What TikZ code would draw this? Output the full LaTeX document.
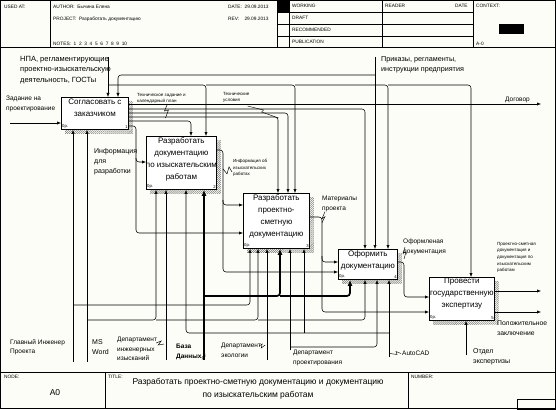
\documentclass[tikz,border=0pt]{standalone}
\usepackage{fontspec}
\setmainfont{Liberation Sans}
\usetikzlibrary{arrows.meta, positioning, patterns.meta, calc}

\definecolor{paper}{RGB}{253,253,247}

\tikzset{
    func/.style={draw, line width=0.8pt, fill=white, anchor=north west, inner sep=0pt},
    hatch/.style={pattern={Lines[angle=45,distance=1.4pt,line width=0.35pt]}, pattern color=black!65},
    arr/.style={-{Latex[length=4pt,width=3.2pt]}, line width=0.55pt, rounded corners=3pt},
    fat arr/.style={arr, line width=1.7pt, -{Latex[length=6pt,width=5pt]}},
    squig/.style={line width=0.45pt},
    frame/.style={line width=0.6pt},
    ftext/.style={font=\fontsize{8}{12}\selectfont, align=center, inner sep=0pt},
    lbl/.style={font=\fontsize{6.5}{9.5}\selectfont, align=left, inner sep=0pt, anchor=north west},
    tinylbl/.style={font=\fontsize{4.5}{6.6}\selectfont, align=left, inner sep=0pt, anchor=north west},
    hdr/.style={font=\fontsize{4.8}{6}\selectfont, inner sep=0pt, anchor=west},
    corner/.style={font=\fontsize{4.2}{5}\selectfont, inner sep=1pt},
}

\begin{document}
\begin{tikzpicture}[x=1pt, y=-1pt]
    \useasboundingbox (0,0) rectangle (556,409);
    \fill[paper] (0,0) rectangle (556,409);

    % frame, header and footer
    \draw[frame] (0.5,0.5) rectangle (555.5,408.5);
    \draw[frame] (0,47) -- (556,47);
    \draw[frame] (50,0) -- (50,47);
    \draw[frame] (277,0) -- (277,47);
    \draw[frame] (289,0) -- (289,47);
    \draw[frame] (382,0) -- (382,47);
    \draw[frame] (473,0) -- (473,47);
    \draw[frame] (277,12) -- (473,12);
    \draw[frame] (277,24) -- (473,24);
    \draw[frame] (277,36) -- (473,36);
    \fill (277,0) rectangle (289,12);
    \fill (499,24) rectangle (524,34);
    \node[hdr] (usedat) at (4,7) {USED AT:};
    \node[hdr] (author) at (53,7) {AUTHOR:\ \ Бычина Елена};
    \node[hdr] (project) at (53,19) {PROJECT:\ \ Разработать документацию};
    \node[hdr] (notes) at (53,44) {NOTES:\ \ 1\ \ 2\ \ 3\ \ 4\ \ 5\ \ 6\ \ 7\ \ 8\ \ 9\ \ 10};
    \node[hdr] (date) at (228,7) {DATE:\ \ 29.09.2013};
    \node[hdr] (rev) at (228,19) {REV:\ \ \ \ 29.09.2013};
    \node[hdr] (working) at (292,6) {WORKING};
    \node[hdr] (draft) at (292,18) {DRAFT};
    \node[hdr] (recom) at (292,30) {RECOMMENDED};
    \node[hdr] (publ) at (292,42) {PUBLICATION};
    \node[hdr] (reader) at (385,6) {READER};
    \node[hdr] (rdate) at (455,6) {DATE};
    \node[hdr] (context) at (476,6) {CONTEXT:};
    \node[hdr] (actx) at (476,44) {A-0};

    \draw[frame] (0,372) -- (556,372);
    \draw[frame] (105,372) -- (105,409);
    \draw[frame] (408,372) -- (408,409);
    \draw[frame] (517,399) rectangle (556,409);
    \node[hdr] (nodehd) at (4,377) {NODE:};
    \node[hdr] (titlehd) at (108,377) {TITLE:};
    \node[hdr] (numberhd) at (411,377) {NUMBER:};
    \node[font=\fontsize{8.5}{10}\selectfont, inner sep=0pt] (nodeno) at (55,393) {A0};
    \node[font=\fontsize{8.5}{13.5}\selectfont, align=center, inner sep=0pt] (title) at (258,389)
        {Разработать проектно-сметную документацию и документацию\\по изыскательским работам};

    % functions
    \node[func, minimum width=67pt, minimum height=32pt] (b1) at (61,97) {};
    \node[func, minimum width=70pt, minimum height=53pt] (b2) at (146,136) {};
    \node[func, minimum width=66pt, minimum height=55pt] (b3) at (243,193) {};
    \node[func, minimum width=59pt, minimum height=30pt] (b4) at (338,249) {};
    \node[func, minimum width=65pt, minimum height=43pt] (b5) at (429,277) {};
    \foreach \b in {b1,b2,b3,b4,b5}{
        \fill[hatch] ($(\b.north east)+(0,4)$) -- ($(\b.north east)+(4,4)$) -- ($(\b.south east)+(4,4)$)
            -- ($(\b.south west)+(4,4)$) -- ($(\b.south west)+(4,0)$) -- (\b.south east) -- cycle;
        \node[corner, anchor=south west] at (\b.south west) {0р.};
    }
    \node[corner, anchor=south east] at (b1.south east) {1};
    \node[corner, anchor=south east] at (b2.south east) {2};
    \node[corner, anchor=south east] at (b3.south east) {3};
    \node[corner, anchor=south east] at (b4.south east) {4};
    \node[corner, anchor=south east] at (b5.south east) {5};
    \node[ftext, below=2pt of b1.north] (t1) {Согласовать с\\заказчиком};
    \node[ftext, below=1pt of b2.north] (t2) {Разработать\\документацию\\по изыскательским\\работам};
    \node[ftext, below=1.5pt of b3.north] (t3) {Разработать\\проектно-\\сметную\\документацию};
    \node[ftext, below=1.5pt of b4.north] (t4) {Оформить\\документацию};
    \node[ftext, below=1pt of b5.north] (t5) {Провести\\государственную\\экспертизу};

    % labels
    \node[lbl, font=\fontsize{7.5}{10.5}\selectfont] (npaL) at (20,56) {НПА, регламентирующие\\проектно-изыскательскую\\деятельность, ГОСТы};
    \node[lbl, font=\fontsize{7.2}{10}\selectfont] (prkL) at (381,56) {Приказы, регламенты,\\инструкции предприятия};
    \node[lbl] (zadL) at (6,96) {Задание на\\проектирование};
    \node[lbl] (dogL) at (505,97) {Договор};
    \node[tinylbl] (tzL) at (137,93) {Техническое задание и\\календарный план};
    \node[tinylbl] (tuL) at (223,92) {Технические\\условия};
    \node[lbl, font=\fontsize{7}{10.3}\selectfont] (infL) at (94,148) {Информация\\для\\разработки};
    \node[tinylbl] (iirL) at (233,159) {Информация об\\изыскательских\\работах};
    \node[lbl] (matL) at (322,196) {Материалы\\проекта};
    \node[lbl] (ofdL) at (403,239) {Оформленая\\документация};
    \node[tinylbl] (psdL) at (497,242) {Проектно-сметная\\документация и\\документация по\\изыскательским\\работам};
    \node[lbl, font=\fontsize{6.8}{9.5}\selectfont] (pzL) at (497,321) {Положительное\\заключение};
    \node[lbl] (gipL) at (10,339) {Главный Инженер\\Проекта};
    \node[lbl, font=\fontsize{7}{10}\selectfont] (mswL) at (92,339) {MS\\Word};
    \node[lbl] (diiL) at (117,337) {Департамент\\инженерных\\изысканий};
    \node[lbl, font=\bfseries\fontsize{6.5}{9.5}\selectfont] (bdL) at (176,344) {База\\Данных};
    \node[lbl] (decoL) at (221,343) {Департамент\\экологии};
    \node[lbl] (dproL) at (293,350) {Департамент\\проектирования};
    \node[lbl] (acadL) at (402,351) {AutoCAD};
    \node[lbl, font=\fontsize{7}{10}\selectfont] (oexL) at (473,348) {Отдел\\экспертизы};

    % free ends
    \coordinate (npa) at (108,57);
    \coordinate (prk) at (375,57);
    \coordinate (zad) at (10,123);
    \coordinate (dog) at (541,104);
    \coordinate (psd) at (541,291);
    \coordinate (pz) at (541,312);
    \coordinate (gip) at (73,362);
    \coordinate (msw) at (87,362);
    \coordinate (dii) at (166,360);
    \coordinate (bd) at (204,360);
    \coordinate (deco) at (267,360);
    \coordinate (dpro) at (290,350);
    \coordinate (acad) at (389,357);
    \coordinate (oex) at (466,355);

    % input and controls
    \draw[arr] (zad) -- (zad -| b1.west);
    \draw[arr] (npa) -- (npa |- b1.north);
    \draw[arr] (npa |- 0,85) -- (206,85) -- (206,0 |- b2.north);
    \draw[arr] (206,85) -- (295,85) -- (295,0 |- b3.north);
    \draw[arr] (295,85) -- (388,85) -- (388,0 |- b4.north);
    \draw[arr] (388,85) -- (471,85) -- (471,0 |- b5.north);
    \draw[arr] (prk) -- (prk |- b4.north);
    \draw[arr] (prk |- 0,75) -- (118,75) -- (118,0 |- b1.north);

    % outputs of 1
    \draw[arr] (b1.east |- dog) -- (dog);
    \draw[arr] (b1.east |- 0,109) -- (365,109) -- (365,0 |- b4.north);
    \draw[arr] (b1.east |- 0,113) -- (288,113) -- (288,0 |- b3.north);
    \draw[arr] (b1.east |- 0,117) -- (278,117) -- (278,0 |- b3.north);
    \draw[arr] (b1.east |- 0,121) -- (191,121) -- (191,0 |- b2.north);
    \draw[arr] (b1.east |- 0,126) -- (136,126) -- (136,162) -- (b2.west |- 0,162);
    \draw[arr] (136,158) -- (136,233) -- (b3.west |- 0,233);

    % outputs of 2, 3, 4, 5
    \draw[arr] (b2.east |- 0,150) -- (223,150) -- (223,205) -- (b3.west |- 0,205);
    \draw[arr] (223,200) -- (223,272) -- (b4.west |- 0,272);
    \draw[arr] (b3.east |- 0,217) -- (322,217) -- (322,262) -- (b4.west |- 0,262);
    \draw[arr] (322,256) -- (322,312) -- (b5.west |- 0,312);
    \draw[arr] (b4.east |- 0,262) -- (404,262) -- (404,297) -- (b5.west |- 0,297);
    \draw[arr] (b5.east |- psd) -- (psd);
    \draw[arr] (b5.east |- pz) -- (pz);

    % mechanisms
    \draw[arr] (gip) -- (gip |- b1.south);
    \draw[arr] (gip |- 0,305) -- (250,305) -- (250,0 |- b3.south);
    \draw[arr] (msw) -- (msw |- b1.south);
    \draw[arr] (msw |- 0,320) -- (156,320) -- (156,0 |- b2.south);
    \draw[arr] (156,320) -- (258,320) -- (258,0 |- b3.south);
    \draw[arr] (258,320) -- (365,320) -- (365,0 |- b4.south);
    \draw[arr] (dii) -- (dii |- b2.south);
    \draw[fat arr] (bd) -- (bd |- b2.south);
    \draw[fat arr] (bd |- 0,296) -- (280,296) -- (280,0 |- b3.south);
    \draw[fat arr] (280,296) -- (350,296) -- (350,0 |- b4.south);
    \draw[arr] (deco) -- (deco |- b3.south);
    \draw[arr] (dpro) -- (dpro |- b3.south);
    \draw[arr] (dpro |- 0,347) -- (377,347) -- (377,0 |- b4.south);
    \draw[arr] (acad) -- (acad |- b4.south);
    \draw[arr] (acad |- 0,333) -- (186,333) -- (186,0 |- b2.south);
    \draw[arr] (304,333) -- (304,0 |- b3.south);
    \draw[arr] (oex) -- (oex |- b5.south);

    % squiggles from labels
    \draw[squig] ($(tzL.south)+(6,0)$) -- ++(-3,7) -- ++(4,-1) -- ++(-3,8);
    \draw[squig] ($(tuL.south east)+(-2,3)$) -- ++(16,4) -- ++(-2,2) -- ++(17,6);
    \draw[squig] ($(iirL.west)+(-1,4)$) -- ++(-3,-5) -- ++(-2,7) -- ++(-4,-5);
    \draw[squig] ($(matL.south west)+(3,0)$) -- ++(-3,7) -- ++(3,-2) -- ++(-3,6);
    \draw[squig] ($(ofdL.south west)+(2,-8)$) -- ++(-2,6) -- ++(3,-1) -- ++(-2,7);
    \draw[squig] ($(diiL.north east)+(-1,6)$) -- ++(5,-2) -- ++(-3,4) -- ++(6,-1);
    \draw[squig] ($(bdL.south east)+(0,-2)$) -- ++(3,-3) -- ++(-2,4) -- ++(3,-3);
    \draw[squig] ($(decoL.north east)+(-2,3)$) -- ++(3,-2) -- ++(-1,4) -- ++(4,-3);
    \draw[squig] ($(acadL.west)+(-1,0)$) -- ++(-5,-2) -- ++(1,3) -- ++(-7,-1);
\end{tikzpicture}
\end{document}
